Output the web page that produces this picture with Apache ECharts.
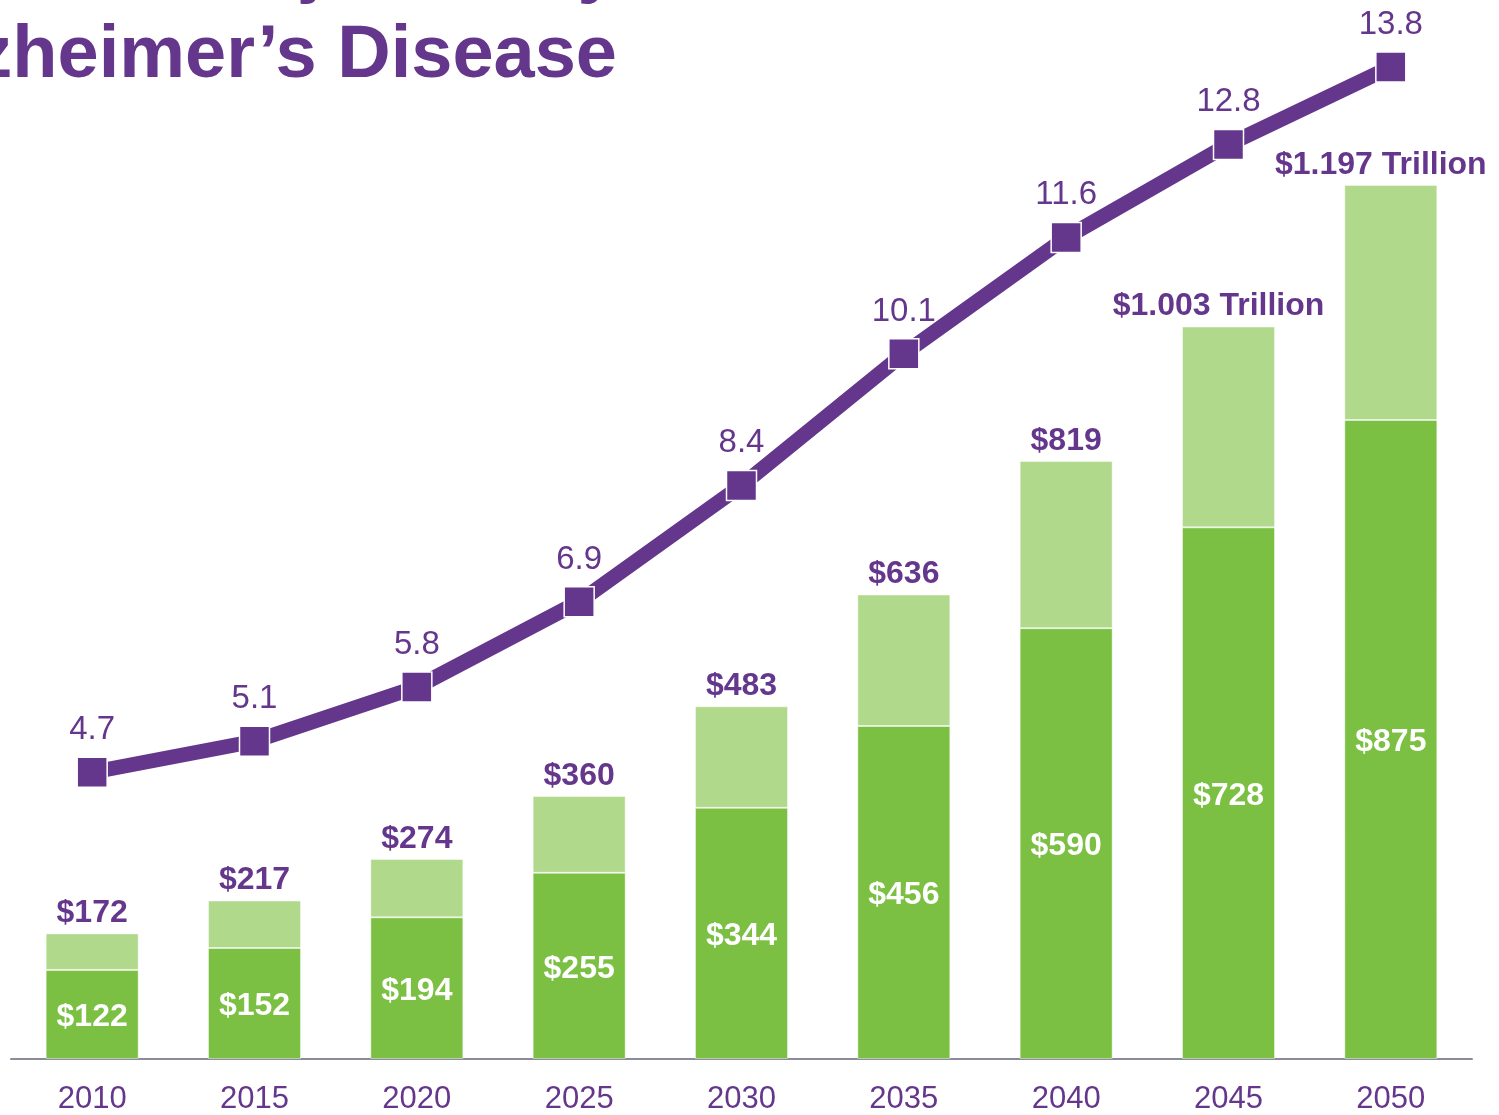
<!DOCTYPE html>
<html>
<head>
<meta charset="utf-8">
<script src="https://cdn.jsdelivr.net/npm/echarts@6/dist/echarts.min.js"></script>
<style>
html,body{margin:0;padding:0;background:#fff;}
#chart{width:1499px;height:1115px;}
</style>
</head>
<body>
<div id="chart"></div>
<script>
var years = ['2010','2015','2020','2025','2030','2035','2040','2045','2050'];
var baseCosts = [122,152,194,255,344,456,590,728,875];
var totalCosts = [172,217,274,360,483,636,819,1003,1197];
var prevalence = [4.7,5.1,5.8,6.9,8.4,10.1,11.6,12.8,13.8];
var titleLine1 = 'Projected by';
var titleLine2 = 'Alzheimer\u2019s Disease';

var purple = '#65378c';
var darkGreen = '#7bbf43';
var lightGreen = '#b1d98c';
var font = 'Liberation Sans, Arial, Helvetica, sans-serif';

function totalLabel(v){
  return v >= 1000 ? '$' + (v/1000).toFixed(3) + ' Trillion' : '$' + v;
}

var extraData = totalCosts.map(function(t, i){
  var item = { value: t - baseCosts[i] };
  if (t >= 1000) item.label = { offset: [-10, 0] };
  return item;
});

var chart = echarts.init(document.getElementById('chart'), null, {renderer:'canvas'});
chart.setOption({
  animation: false,
  backgroundColor: '#ffffff',
  graphic: [
    { type:'text', x: 180, y: -31,
      style:{ text: titleLine1, fill: purple, font: 'bold 73px ' + font, align:'left', verticalAlign:'middle' } },
    { type:'text', x: 617, y: 57,
      style:{ text: titleLine2, fill: purple, font: 'bold 74px ' + font, align:'right', verticalAlign:'middle' } }
  ],
  grid: { left: 11, right: 27, top: 60, bottom: 55, containLabel: false },
  xAxis: {
    type: 'category', data: years, boundaryGap: true,
    axisTick: { show: false },
    axisLine: { lineStyle: { color: '#8b8b99', width: 2 } },
    axisLabel: { color: purple, fontSize: 31, fontFamily: font, margin: 25 }
  },
  yAxis: [
    { type:'value', min:0, max:1368, show:false, splitLine:{show:false} },
    { type:'value', min:1, max:13.89, show:false, splitLine:{show:false} }
  ],
  series: [
    { type:'bar', name:'base', stack:'cost', data: baseCosts, barWidth: 93,
      itemStyle: { color: darkGreen, borderColor: 'rgba(255,255,255,0.45)', borderWidth: 1 },
      label: { show:true, position:'inside', offset:[0,3], color:'#ffffff', fontSize:32, fontWeight:'bold', fontFamily: font,
        formatter: function(p){ return '$' + p.value; } } },
    { type:'bar', name:'extra', stack:'cost', data: extraData, barWidth: 93,
      itemStyle: { color: lightGreen, borderColor: 'rgba(255,255,255,0.45)', borderWidth: 1 },
      label: { show:true, position:'top', distance: 4, color: purple, fontSize:32, fontWeight:'bold', fontFamily: font,
        formatter: function(p){ return totalLabel(totalCosts[p.dataIndex]); } } },
    { type:'line', name:'prevalence', yAxisIndex:1, data: prevalence,
      symbol:'rect', symbolSize: 30,
      lineStyle: { color: purple, width: 15 },
      itemStyle: { color: purple, borderColor:'#ffffff', borderWidth: 1.5 },
      label: { show:true, position:'top', distance: 10, color: purple, fontSize: 33, fontFamily: font,
        formatter: function(p){ return p.value.toFixed(1); } },
      z: 5 }
  ]
});
</script>
</body>
</html>
